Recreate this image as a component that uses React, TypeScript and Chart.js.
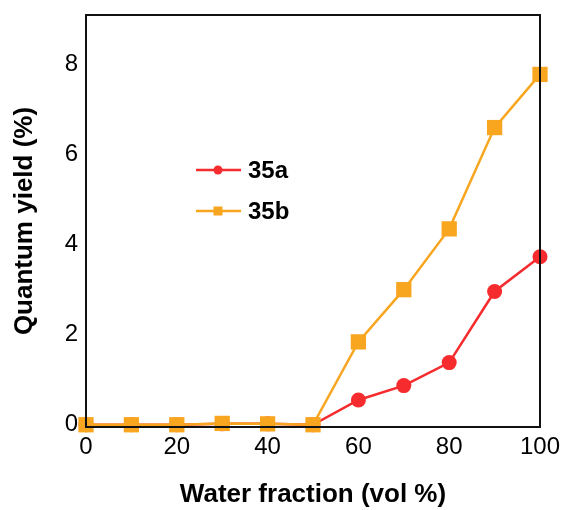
import React, { useEffect, useRef } from "react";
import { Chart, registerables } from "chart.js";

Chart.register(...registerables);

const waterFraction = [0, 10, 20, 30, 40, 50, 60, 70, 80, 90, 100];
const yield35a = [0, 0, 0, 0.02, 0.02, 0, 0.55, 0.87, 1.38, 2.96, 3.73];
const yield35b = [0, 0, 0, 0.03, 0.02, 0, 1.84, 3.0, 4.35, 6.6, 7.78];
const yTicks = [0, 2, 4, 6, 8];
const xTicks = [0, 20, 40, 60, 80, 100];
const seriesNames = ["35a", "35b"];

const RED = "#f52b2e";
const ORANGE = "#f8a51f";
const FONT = "'Liberation Sans', Arial, sans-serif";

const frameAndLegend = {
  id: "frameAndLegend",
  afterDatasetsDraw(chart: any) {
    const { ctx, chartArea } = chart;
    ctx.save();
    ctx.strokeStyle = "#111";
    ctx.lineWidth = 2;
    ctx.strokeRect(chartArea.left, chartArea.top, chartArea.right - chartArea.left, chartArea.bottom - chartArea.top);
    const items = [
      { name: seriesNames[0], color: RED, shape: "circle" },
      { name: seriesNames[1], color: ORANGE, shape: "square" },
    ];
    const x0 = chartArea.left + 110;
    let y = chartArea.top + 155;
    items.forEach((it) => {
      ctx.strokeStyle = it.color;
      ctx.fillStyle = it.color;
      ctx.lineWidth = 2.5;
      ctx.beginPath();
      ctx.moveTo(x0, y);
      ctx.lineTo(x0 + 45, y);
      ctx.stroke();
      if (it.shape === "circle") {
        ctx.beginPath();
        ctx.arc(x0 + 22, y, 4.5, 0, Math.PI * 2);
        ctx.fill();
      } else {
        ctx.fillRect(x0 + 22 - 4.5, y - 4.5, 9, 9);
      }
      ctx.fillStyle = "#000";
      ctx.font = `bold 24px ${FONT}`;
      ctx.textBaseline = "middle";
      ctx.textAlign = "left";
      ctx.fillText(it.name, x0 + 52, y + 1);
      y += 41;
    });
    ctx.restore();
  },
};

export default function App() {
  const ref = useRef<HTMLCanvasElement | null>(null);
  useEffect(() => {
    document.body.style.margin = "0";
    const canvas = ref.current!;
    const chart = new Chart(canvas, {
      type: "line",
      data: {
        datasets: [
          {
            label: seriesNames[0],
            data: waterFraction.map((x, i) => ({ x, y: yield35a[i] })),
            borderColor: RED,
            backgroundColor: RED,
            pointStyle: "circle",
            pointRadius: 7.5,
            borderWidth: 2.5,
            pointBorderWidth: 0,
            clip: false,
            order: 2,
          },
          {
            label: seriesNames[1],
            data: waterFraction.map((x, i) => ({ x, y: yield35b[i] })),
            borderColor: ORANGE,
            backgroundColor: ORANGE,
            pointStyle: "rect",
            pointRadius: 10.8,
            borderWidth: 2.5,
            pointBorderWidth: 0,
            clip: false,
            order: 1,
          },
        ],
      },
      options: {
        animation: false,
        responsive: false,
        layout: { padding: { top: 15, right: 22, left: 0, bottom: 0 } },
        plugins: { legend: { display: false }, tooltip: { enabled: false } },
        scales: {
          x: {
            type: "linear",
            min: 0,
            max: 100,
            grid: { display: false, drawTicks: false },
            border: { display: true, color: "#111", width: 2 },
            afterBuildTicks: (s: any) => {
              s.ticks = xTicks.map((v) => ({ value: v }));
            },
            afterFit: (s: any) => {
              s.height = 83;
              s.paddingLeft = 0;
              s.paddingRight = 0;
            },
            ticks: {
              color: "#000",
              font: { family: FONT, size: 24 },
              padding: 6,
              maxRotation: 0,
            },
            title: {
              display: true,
              text: "Water fraction (vol %)",
              color: "#000",
              font: { family: FONT, size: 26, weight: "bold" },
              padding: { top: 10, bottom: 0 },
            },
          },
          y: {
            type: "linear",
            min: -0.05,
            max: 9.1,
            grid: { display: false, drawTicks: false },
            border: { display: true, color: "#111", width: 2 },
            afterBuildTicks: (s: any) => {
              s.ticks = yTicks.map((v) => ({ value: v }));
            },
            afterFit: (s: any) => {
              s.width = 86;
              s.paddingTop = 0;
              s.paddingBottom = 0;
            },
            ticks: {
              color: "#000",
              font: { family: FONT, size: 24 },
              padding: 8,
            },
            title: {
              display: true,
              text: "Quantum yield (%)",
              color: "#000",
              font: { family: FONT, size: 26, weight: "bold" },
              padding: { top: 9, bottom: 4 },
            },
          },
        },
      },
      plugins: [frameAndLegend],
    } as any);
    return () => chart.destroy();
  }, []);
  return (
    <div style={{ width: 562, height: 510, background: "#fff" }}>
      <canvas ref={ref} width={562} height={510} style={{ display: "block" }} />
    </div>
  );
}
